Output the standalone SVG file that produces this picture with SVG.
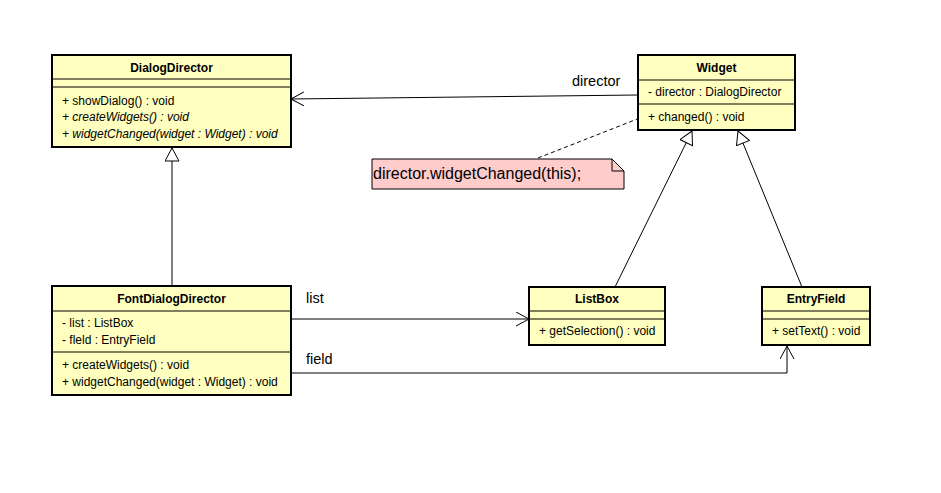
<svg xmlns="http://www.w3.org/2000/svg" width="941" height="493" viewBox="0 0 941 493">
<style>
.box{fill:#FFFFC0;stroke:#000;stroke-width:2}
.sep{stroke:#000;stroke-width:1}
.t{font-family:"Liberation Sans",Arial,sans-serif;font-size:12px;fill:#000}
.b{font-weight:bold;text-anchor:middle}
.i{font-style:italic}
.lbl{font-family:"Liberation Sans",Arial,sans-serif;font-size:14.5px;fill:#000}
.c{fill:none;stroke:#000;stroke-width:1}
</style>
<defs>
<marker id="tri" markerWidth="16" markerHeight="16" refX="14" refY="7" orient="auto" markerUnits="userSpaceOnUse">
<path d="M1,0 L14,7 L1,14 Z" fill="#fff" stroke="#000" stroke-width="1"/>
</marker>
<marker id="open" markerWidth="16" markerHeight="16" refX="14" refY="7" orient="auto" markerUnits="userSpaceOnUse">
<path d="M1,0 L14,7 L1,14" fill="none" stroke="#000" stroke-width="1"/>
</marker>
</defs>
<rect width="941" height="493" fill="#fff"/>
<g id="connectors">
<line class="c" x1="638" y1="95" x2="291" y2="99" marker-end="url(#open)"/>
<text class="lbl" x="572" y="86">director</text>
<line class="c" x1="172" y1="286" x2="172" y2="148" marker-end="url(#tri)"/>
<line class="c" x1="615" y1="287" x2="692" y2="131" marker-end="url(#tri)"/>
<line class="c" x1="802" y1="287" x2="738" y2="131" marker-end="url(#tri)"/>
<line class="c" x1="291" y1="319" x2="529" y2="319" marker-end="url(#open)"/>
<text class="lbl" x="306" y="303">list</text>
<polyline class="c" points="291,373 787,373 787,346" marker-end="url(#open)"/>
<text class="lbl" x="306" y="364">field</text>
<line class="c" x1="538" y1="158" x2="645" y2="116" stroke-dasharray="4,3"/>
<circle cx="645" cy="116" r="2" fill="#000"/>
</g>
<g id="DialogDirector">
<rect class="box" x="52" y="55" width="239" height="92"/>
<line class="sep" x1="52" y1="79" x2="291" y2="79"/>
<line class="sep" x1="52" y1="87" x2="291" y2="87"/>
<text class="t b" x="171.5" y="72">DialogDirector</text>
<text class="t" x="62" y="105">+ showDialog() : void</text>
<text class="t i" x="62" y="121">+ createWidgets() : void</text>
<text class="t i" x="62" y="138">+ widgetChanged(widget : Widget) : void</text>
</g>
<g id="Widget">
<rect class="box" x="638" y="55" width="157" height="75"/>
<line class="sep" x1="638" y1="80" x2="795" y2="80"/>
<line class="sep" x1="638" y1="104" x2="795" y2="104"/>
<text class="t b" x="716.5" y="72">Widget</text>
<text class="t" x="648" y="96">- director : DialogDirector</text>
<text class="t" x="648" y="121">+ changed() : void</text>
</g>
<g id="note">
<path d="M372,159 L612,159 L624,171 L624,189 L372,189 Z" fill="#FFCCCC" stroke="#000" stroke-width="1"/>
<path d="M612,159 L612,171 L624,171" fill="none" stroke="#000" stroke-width="1"/>
<text class="lbl" x="373" y="179" style="font-size:16px">director.widgetChanged(this);</text>
</g>
<g id="FontDialogDirector">
<rect class="box" x="52" y="286" width="239" height="109"/>
<line class="sep" x1="52" y1="311" x2="291" y2="311"/>
<line class="sep" x1="52" y1="352" x2="291" y2="352"/>
<text class="t b" x="171.5" y="303">FontDialogDirector</text>
<text class="t" x="62" y="327">- list : ListBox</text>
<text class="t" x="62" y="344">- fleld : EntryField</text>
<text class="t" x="62" y="369">+ createWidgets() : void</text>
<text class="t" x="62" y="386">+ widgetChanged(widget : Widget) : void</text>
</g>
<g id="ListBox">
<rect class="box" x="529" y="287" width="136" height="58"/>
<line class="sep" x1="529" y1="311" x2="665" y2="311"/>
<line class="sep" x1="529" y1="319" x2="665" y2="319"/>
<text class="t b" x="597" y="303">ListBox</text>
<text class="t" x="539" y="335">+ getSelection() : void</text>
</g>
<g id="EntryField">
<rect class="box" x="762" y="287" width="108" height="58"/>
<line class="sep" x1="762" y1="311" x2="870" y2="311"/>
<line class="sep" x1="762" y1="319" x2="870" y2="319"/>
<text class="t b" x="816" y="303">EntryField</text>
<text class="t" x="772" y="335">+ setText() : void</text>
</g>
</svg>
